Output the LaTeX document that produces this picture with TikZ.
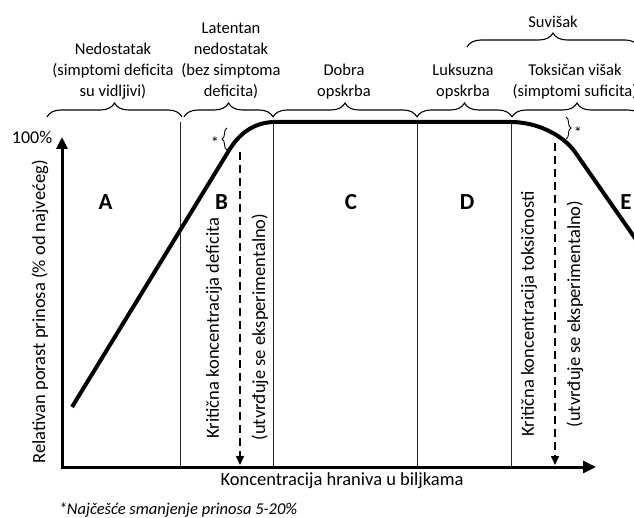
\documentclass[tikz,border=0pt]{standalone}
\usepackage{fontspec}
\setmainfont{Carlito}
\usetikzlibrary{decorations.pathreplacing,arrows.meta}
\begin{document}
\begin{tikzpicture}[x=1pt,y=-1pt,
  lbl/.style={font=\fontsize{16.5}{21}\selectfont, align=center, inner sep=0pt},
  axlbl/.style={font=\fontsize{18.5}{22}\selectfont, inner sep=0pt},
  big/.style={font=\fontsize{23}{26}\selectfont\bfseries, inner sep=0pt},
  vlbl/.style={font=\fontsize{18.5}{22}\selectfont, rotate=90, inner sep=0pt},
  bracetop/.style={decorate, decoration={brace, amplitude=14pt}, line width=1.1pt},
  bracesmall/.style={decorate, decoration={brace, amplitude=5pt}, line width=0.9pt},
  axisline/.style={line width=3pt, line join=miter},
  curveline/.style={line width=4pt, line join=round},
  sepline/.style={line width=1pt, black!85},
  dasharrow/.style={line width=1.5pt, dash pattern=on 8pt off 5pt, -{Triangle[length=9pt,width=8pt]}}]
\path[use as bounding box, clip] (0,0) rectangle (634,518);

% axes
\coordinate (O) at (62,467);
\coordinate (ytip) at (62,137);
\coordinate (xtip) at (596,467);
\draw[axisline, {Triangle[length=12pt,width=11pt]}-{Triangle[length=13pt,width=12pt]}] (ytip) -- (O) -- (xtip);

% separator lines
\foreach \n/\x in {s1/180, s2/273, s3/417, s4/511} {
  \coordinate (\n t) at (\x,122);
  \coordinate (\n b) at (\x,467);
  \draw[sepline] (\n t) -- (\n b);
}

% response curve
\draw[curveline] (72,407) -- (228,152) .. controls (238,135) and (252,123) .. (273,122)
  -- (511,122) .. controls (537,122) and (563,135) .. (575,152) -- (660,274);

% dashed arrows
\coordinate (d1t) at (240,152);
\coordinate (d1b) at (240,465);
\coordinate (d2t) at (555,143);
\coordinate (d2b) at (555,465);
\draw[dasharrow] (d1t) -- (d1b);
\draw[dasharrow] (d2t) -- (d2b);

% top braces
\coordinate (b1a) at (47,117);  \coordinate (b1b) at (182,117);
\coordinate (b2a) at (184,117); \coordinate (b2b) at (273,117);
\coordinate (b3a) at (273,117); \coordinate (b3b) at (417,117);
\coordinate (b4a) at (417,117); \coordinate (b4b) at (512,117);
\coordinate (b5a) at (512,117); \coordinate (b5b) at (642,117);
\coordinate (b6a) at (467,47);  \coordinate (b6b) at (639,47);
\foreach \n in {1,...,6} { \draw[bracetop] (b\n a) -- (b\n b); }

% small braces
\coordinate (sb1a) at (227,150); \coordinate (sb1b) at (227,128);
\coordinate (sb2a) at (566,117); \coordinate (sb2b) at (566,139);
\draw[bracesmall] (sb1a) -- (sb1b);
\draw[bracesmall] (sb2a) -- (sb2b);
\node[lbl] (st1) at (215,143) {*};
\node[lbl] (st2) at (578,133) {*};

% top labels
\node[lbl] (t1) at (113,71) {Nedostatak\\(simptomi deficita\\su vidljivi)};
\node[lbl] (t2) at (231,61) {Latentan\\nedostatak\\(bez simptoma\\deficita)};
\node[lbl] (t3) at (344,82) {Dobra\\opskrba};
\node[lbl] (t4) at (463,82) {Luksuzna\\opskrba};
\node[lbl] (t5) at (575,82) {Toksičan višak\\(simptomi suficita)};
\node[lbl] (t6) at (553,22) {Suvišak};

% zone letters
\node[big] (A) at (105.5,202) {A};
\node[big] (B) at (221.5,202) {B};
\node[big] (C) at (351,202) {C};
\node[big] (D) at (467,202) {D};
\node[big] (E) at (626,202) {E};

% axis labels
\node[axlbl, font=\fontsize{18}{22}\selectfont] (p100) at (32,137) {100\%};
\node[vlbl] (ylab) at (40,312) {Relativan porast prinosa (\% od najvećeg)};
\node[axlbl] (xlab) at (342,481) {Koncentracija hraniva u biljkama};

% rotated labels
\node[vlbl] (k1) at (214,328) {Kritična koncentracija deficita};
\node[vlbl] (u1) at (260,327) {(utvrđuje se eksperimentalno)};
\node[vlbl] (k2) at (529,314) {Kritična koncentracija toksičnosti};
\node[vlbl] (u2) at (575,314) {(utvrđuje se eksperimentalno)};

% footnote
\node[lbl, font=\fontsize{16.5}{21}\selectfont\itshape] (fn) at (178,510) {*Najčešće smanjenje prinosa 5-20\%};
\end{tikzpicture}
\end{document}
